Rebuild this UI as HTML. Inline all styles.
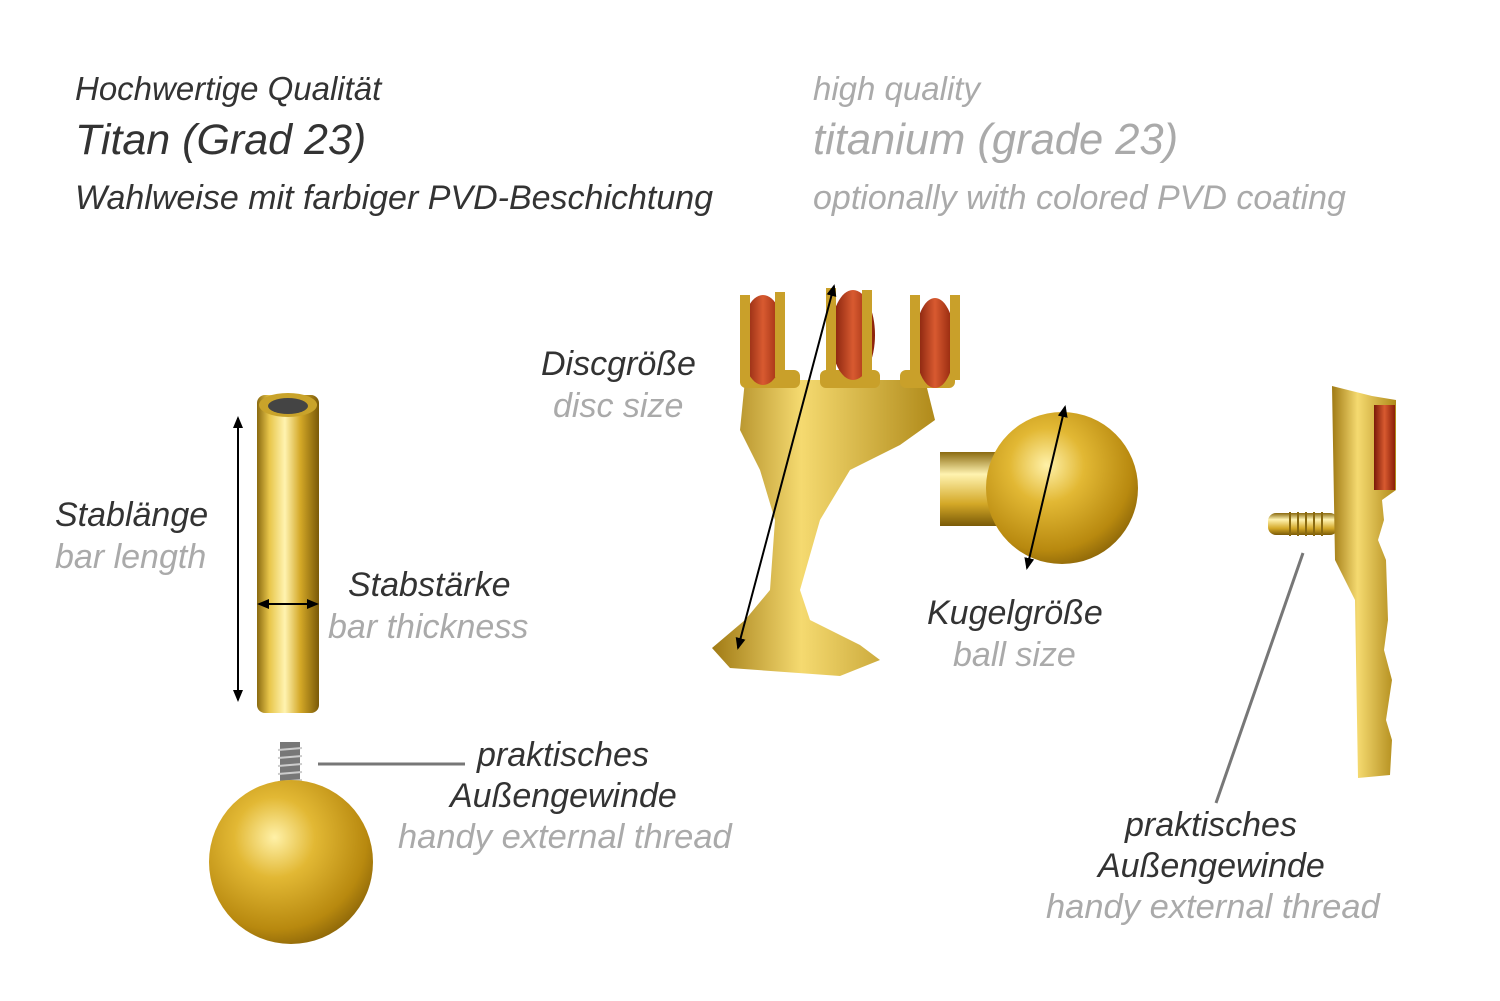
<!DOCTYPE html>
<html><head><meta charset="utf-8"><style>
html,body{margin:0;padding:0;background:#fff;}
body{width:1500px;height:1001px;position:relative;overflow:hidden;font-family:"Liberation Sans",sans-serif;font-style:italic;}
.t{position:absolute;white-space:nowrap;line-height:1;}
.d{color:#333;}
.g{color:#aaa;}
svg{position:absolute;left:0;top:0;}
</style></head><body>
<svg width="1500" height="1001" viewBox="0 0 1500 1001">
<defs>
<linearGradient id="bar" x1="0" x2="1" y1="0" y2="0">
<stop offset="0" stop-color="#8a6a10"/><stop offset="0.2" stop-color="#e8c64a"/><stop offset="0.45" stop-color="#fff3b0"/><stop offset="0.7" stop-color="#d4a827"/><stop offset="1" stop-color="#7a5a08"/></linearGradient>
<linearGradient id="barv" x1="0" x2="0" y1="0" y2="1">
<stop offset="0" stop-color="#8a6a10"/><stop offset="0.3" stop-color="#fff3b0"/><stop offset="0.7" stop-color="#d4a827"/><stop offset="1" stop-color="#7a5a08"/></linearGradient>
<radialGradient id="ball" cx="0.4" cy="0.35" r="0.7">
<stop offset="0" stop-color="#fff1a8"/><stop offset="0.35" stop-color="#e2b834"/><stop offset="0.8" stop-color="#b8890f"/><stop offset="1" stop-color="#8a6408"/></radialGradient>
<linearGradient id="gem" x1="0" x2="1"><stop offset="0" stop-color="#7a1a08"/><stop offset="0.5" stop-color="#d85a30"/><stop offset="1" stop-color="#8a2008"/></linearGradient>
<linearGradient id="side" x1="0" x2="1"><stop offset="0" stop-color="#a07a14"/><stop offset="0.4" stop-color="#f5da70"/><stop offset="1" stop-color="#b08a1a"/></linearGradient>
<marker id="ar" markerWidth="6" markerHeight="6" refX="5" refY="3" orient="auto-start-reverse"><path d="M0,0.5 L6,3 L0,5.5 z" fill="#000"/></marker>
</defs>
<!-- bar -->
<rect x="257" y="395" width="62" height="318" rx="8" fill="url(#bar)"/>
<ellipse cx="288" cy="405" rx="29" ry="12" fill="#c9a32a"/>
<ellipse cx="288" cy="406" rx="20" ry="8" fill="#444"/>
<line x1="238" y1="418" x2="238" y2="700" stroke="#000" stroke-width="2" marker-start="url(#ar)" marker-end="url(#ar)"/>
<line x1="259" y1="604" x2="317" y2="604" stroke="#000" stroke-width="2" marker-start="url(#ar)" marker-end="url(#ar)"/>
<!-- ball with thread -->
<rect x="280" y="742" width="20" height="50" fill="#777"/>
<g stroke="#ccc" stroke-width="2"><line x1="278" y1="750" x2="302" y2="748"/><line x1="278" y1="758" x2="302" y2="756"/><line x1="278" y1="766" x2="302" y2="764"/><line x1="278" y1="774" x2="302" y2="772"/><line x1="278" y1="782" x2="302" y2="780"/></g>
<circle cx="291" cy="862" r="82" fill="url(#ball)"/>
<line x1="318" y1="764" x2="465" y2="764" stroke="#777" stroke-width="3"/>
<!-- candelabra -->
<rect x="940" y="452" width="90" height="74" fill="url(#barv)"/>
<circle cx="1062" cy="488" r="76" fill="url(#ball)"/>
<path d="M745,380 L925,380 L935,420 L900,445 L850,470 L820,520 L800,590 L810,620 L860,645 L880,660 L840,676 L730,668 L712,648 L745,620 L770,590 L775,520 L760,470 L740,430 Z" fill="url(#side)"/>
<g fill="#c9a02a"><rect x="740" y="370" width="60" height="18" rx="6"/><rect x="820" y="370" width="60" height="18" rx="6"/><rect x="900" y="370" width="55" height="18" rx="6"/></g>
<g fill="url(#gem)">
<ellipse cx="763" cy="340" rx="22" ry="45"/><ellipse cx="853" cy="335" rx="22" ry="45"/><ellipse cx="935" cy="343" rx="20" ry="45"/></g>
<g fill="#c9a02a"><rect x="740" y="295" width="10" height="85"/><rect x="826" y="288" width="10" height="90"/><rect x="910" y="295" width="10" height="85"/><rect x="775" y="292" width="10" height="85"/><rect x="862" y="290" width="10" height="88"/><rect x="950" y="295" width="10" height="85"/></g>
<line x1="738" y1="648" x2="834" y2="286" stroke="#000" stroke-width="2" marker-start="url(#ar)" marker-end="url(#ar)"/>
<line x1="1027" y1="568" x2="1065" y2="407" stroke="#000" stroke-width="2" marker-start="url(#ar)" marker-end="url(#ar)"/>
<!-- side view -->
<rect x="1268" y="513" width="70" height="22" rx="8" fill="url(#barv)"/>
<g stroke="#8a6a10" stroke-width="2"><line x1="1290" y1="512" x2="1290" y2="536"/><line x1="1298" y1="512" x2="1298" y2="536"/><line x1="1306" y1="512" x2="1306" y2="536"/><line x1="1314" y1="512" x2="1314" y2="536"/><line x1="1322" y1="512" x2="1322" y2="536"/></g>
<path d="M1332,386 L1372,396 L1396,400 L1396,490 L1382,500 L1384,520 L1378,540 L1386,560 L1388,620 L1384,650 L1392,680 L1386,720 L1392,740 L1390,775 L1358,778 L1355,600 L1335,560 Z" fill="url(#side)"/>
<path d="M1374,405 L1395,405 L1395,490 L1374,490 Z" fill="url(#gem)"/>
<line x1="1303" y1="553" x2="1216" y2="803" stroke="#777" stroke-width="3"/>
</svg>
<div class="t d" style="left:75px;top:72px;font-size:33px;">Hochwertige Qualität</div>
<div class="t d" style="left:75px;top:119px;font-size:43px;">Titan (Grad 23)</div>
<div class="t d" style="left:75px;top:181px;font-size:34px;">Wahlweise mit farbiger PVD-Beschichtung</div>
<div class="t g" style="left:813px;top:72px;font-size:33px;">high quality</div>
<div class="t g" style="left:813px;top:119px;font-size:43.5px;">titanium (grade 23)</div>
<div class="t g" style="left:813px;top:181px;font-size:34px;">optionally with colored PVD coating</div>
<div class="t d" style="left:541px;top:347px;font-size:34px;">Discgröße</div>
<div class="t g" style="left:553px;top:389px;font-size:34px;">disc size</div>
<div class="t d" style="left:55px;top:498px;font-size:34px;">Stablänge</div>
<div class="t g" style="left:55px;top:540px;font-size:34px;">bar length</div>
<div class="t d" style="left:348px;top:568px;font-size:34px;">Stabstärke</div>
<div class="t g" style="left:328px;top:610px;font-size:34px;">bar thickness</div>
<div class="t d" style="left:927px;top:596px;font-size:34px;">Kugelgröße</div>
<div class="t g" style="left:953px;top:638px;font-size:34px;">ball size</div>
<div class="t d" style="left:477px;top:738px;font-size:34px;">praktisches</div>
<div class="t d" style="left:450px;top:779px;font-size:34px;">Außengewinde</div>
<div class="t g" style="left:398px;top:820px;font-size:34.5px;">handy external thread</div>
<div class="t d" style="left:1125px;top:808px;font-size:34px;">praktisches</div>
<div class="t d" style="left:1098px;top:849px;font-size:34px;">Außengewinde</div>
<div class="t g" style="left:1046px;top:890px;font-size:34.5px;">handy external thread</div>
</body></html>
